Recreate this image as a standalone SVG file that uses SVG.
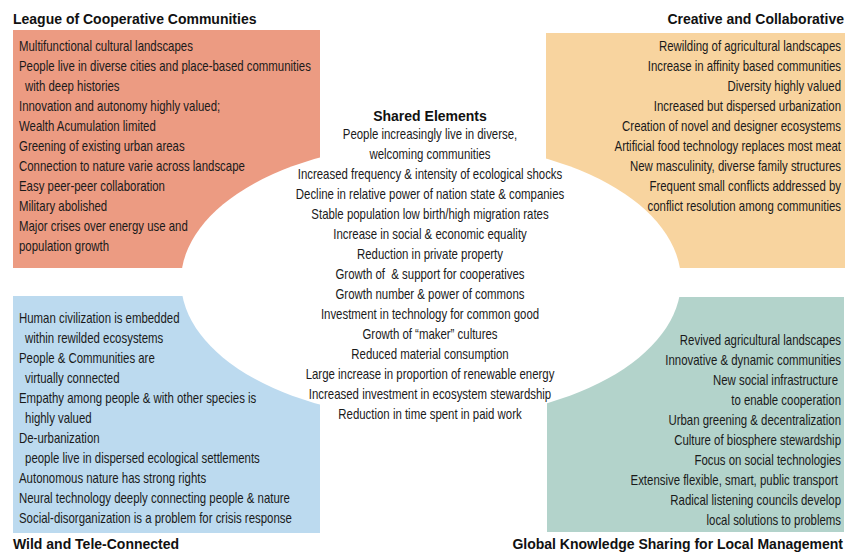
<svg xmlns="http://www.w3.org/2000/svg" width="857" height="554" viewBox="0 0 857 554">
<style>
.t{font-family:"Liberation Sans",Arial,sans-serif;font-size:14px;fill:#1a1a1a}
.h{font-family:"Liberation Sans",Arial,sans-serif;font-size:14px;font-weight:bold;fill:#111}
.r{text-anchor:end}
.c{text-anchor:middle}
</style>
<rect width="857" height="554" fill="#fff"/>
<g id="league">
<rect x="13" y="30" width="307" height="238" fill="#EC9B82"/>
</g>
<g id="creative">
<rect x="546" y="33" width="299" height="235" fill="#F8D49F"/>
</g>
<g id="wild">
<rect x="13" y="296" width="307" height="237" fill="#BCDAEF"/>
</g>
<g id="global">
<rect x="547" y="297" width="297" height="235" fill="#B3D3CB"/>
</g>
<g id="shared">
<ellipse cx="431" cy="281" rx="250" ry="138" fill="#fff"/>
<text class="h c" x="430" y="121">Shared Elements</text>
<g class="t c" transform="translate(430,0) scale(0.816,1)">
<text x="0" y="139">People increasingly live in diverse,</text>
<text x="0" y="159">welcoming communities</text>
<text x="0" y="179">Increased frequency &amp; intensity of ecological shocks</text>
<text x="0" y="199">Decline in relative power of nation state &amp; companies</text>
<text x="0" y="219">Stable population low birth/high migration rates</text>
<text x="0" y="239">Increase in social &amp; economic equality</text>
<text x="0" y="259">Reduction in private property</text>
<text x="0" y="279">Growth of&#160; &amp; support for cooperatives</text>
<text x="0" y="299">Growth number &amp; power of commons</text>
<text x="0" y="319">Investment in technology for common good</text>
<text x="0" y="339">Growth of “maker” cultures</text>
<text x="0" y="359">Reduced material consumption</text>
<text x="0" y="379">Large increase in proportion of renewable energy</text>
<text x="0" y="399">Increased investment in ecosystem stewardship</text>
<text x="0" y="419">Reduction in time spent in paid work</text>
</g>
</g>
<g id="league-text">
<text class="h" x="13" y="24">League of Cooperative Communities</text>
<g class="t" transform="translate(19,0) scale(0.816,1)">
<text x="0" y="51">Multifunctional cultural landscapes</text>
<text x="0" y="71">People live in diverse cities and place-based communities</text>
<text x="7.4" y="91">with deep histories</text>
<text x="0" y="111">Innovation and autonomy highly valued;</text>
<text x="0" y="131">Wealth Acumulation limited</text>
<text x="0" y="151">Greening of existing urban areas</text>
<text x="0" y="171">Connection to nature varie across landscape</text>
<text x="0" y="191">Easy peer-peer collaboration</text>
<text x="0" y="211">Military abolished</text>
<text x="0" y="231">Major crises over energy use and</text>
<text x="0" y="251">population growth</text>
</g>
</g>
<g id="creative-text">
<text class="h r" x="844" y="24">Creative and Collaborative</text>
<g class="t r" transform="translate(841,0) scale(0.816,1)">
<text x="0" y="51">Rewilding of agricultural landscapes</text>
<text x="0" y="71">Increase in affinity based communities</text>
<text x="0" y="91">Diversity highly valued</text>
<text x="0" y="111">Increased but dispersed urbanization</text>
<text x="0" y="131">Creation of novel and designer ecosystems</text>
<text x="0" y="151">Artificial food technology replaces most meat</text>
<text x="0" y="171">New masculinity, diverse family structures</text>
<text x="0" y="191">Frequent small conflicts addressed by</text>
<text x="0" y="211">conflict resolution among communities</text>
</g>
</g>
<g id="wild-text">
<text class="h" x="13" y="549">Wild and Tele-Connected</text>
<g class="t" transform="translate(19,0) scale(0.816,1)">
<text x="0" y="323">Human civilization is embedded</text>
<text x="7.4" y="343">within rewilded ecosystems</text>
<text x="0" y="363">People &amp; Communities are</text>
<text x="7.4" y="383">virtually connected</text>
<text x="0" y="403">Empathy among people &amp; with other species is</text>
<text x="7.4" y="423">highly valued</text>
<text x="0" y="443">De-urbanization</text>
<text x="7.4" y="463">people live in dispersed ecological settlements</text>
<text x="0" y="483">Autonomous nature has strong rights</text>
<text x="0" y="503">Neural technology deeply connecting people &amp; nature</text>
<text x="0" y="523">Social-disorganization is a problem for crisis response</text>
</g>
</g>
<g id="global-text">
<text class="h r" x="843" y="549">Global Knowledge Sharing for Local Management</text>
<g class="t r" transform="translate(841,0) scale(0.816,1)">
<text x="0" y="345">Revived agricultural landscapes</text>
<text x="0" y="365">Innovative &amp; dynamic communities</text>
<text x="-3.7" y="385">New social infrastructure</text>
<text x="0" y="405">to enable cooperation</text>
<text x="0" y="425">Urban greening &amp; decentralization</text>
<text x="0" y="445">Culture of biosphere stewardship</text>
<text x="0" y="465">Focus on social technologies</text>
<text x="-3.7" y="485">Extensive flexible, smart, public transport</text>
<text x="0" y="505">Radical listening councils develop</text>
<text x="0" y="525">local solutions to problems</text>
</g>
</g>
</svg>
